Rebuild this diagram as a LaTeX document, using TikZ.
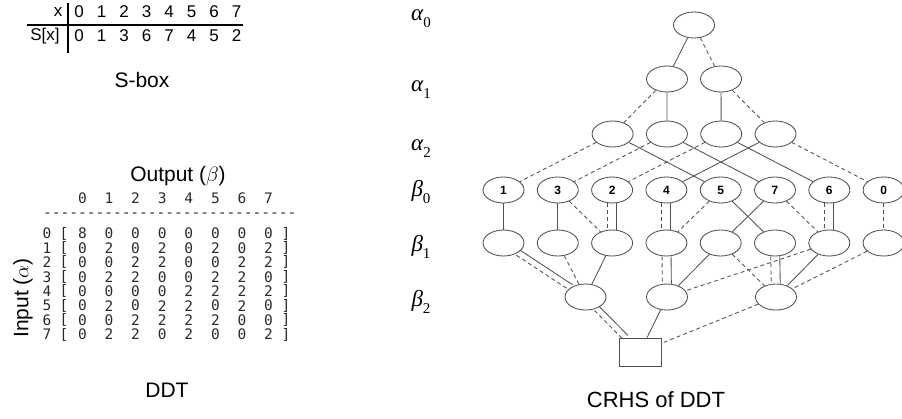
\documentclass[tikz,border=0pt]{standalone}
\usepackage{fontspec}
\setmainfont{Liberation Sans}
\setmonofont{DejaVu Sans Mono}
\newfontfamily\grk{Liberation Serif}
\usetikzlibrary{shapes.geometric}
\definecolor{lineclr}{HTML}{505050}
\definecolor{ddtclr}{HTML}{2A2A2A}
\newcommand{\lvl}[2]{{\grk\itshape #1}\raisebox{-0.3em}{\grk\fontsize{15}{15}\selectfont #2}}
\begin{document}
\begin{tikzpicture}[x=1pt,y=-1pt,
  vn/.style={draw=lineclr, ellipse, minimum width=41pt, minimum height=26pt, inner sep=0pt, line width=0.85pt, font=\fontsize{12}{12}\selectfont\bfseries},
  boxn/.style={draw=lineclr, rectangle, minimum width=42pt, minimum height=28pt, inner sep=0pt, line width=0.85pt},
  sol/.style={draw=lineclr, line width=0.85pt},
  dsh/.style={draw=lineclr, line width=0.85pt, dash pattern=on 4pt off 3pt},
  title/.style={font=\fontsize{21}{21}\selectfont, inner sep=0pt},
  sb/.style={font=\fontsize{17}{17}\selectfont, inner sep=0pt},
  ddt/.style={font=\fontsize{14.5}{14.5}\selectfont\ttfamily, text=ddtclr, inner sep=0pt},
  gl/.style={font=\fontsize{23}{23}\selectfont, inner sep=0pt}]
\useasboundingbox (0,0) rectangle (902,418);

% ---------- S-box table ----------
\node[sb] (sx) at (58,12) {x};
\node[sb] (ssx) at (45,36) {S[x]};
\foreach \v [count=\i from 0] in {0,1,2,3,4,5,6,7}
  \node[sb] (xt\i) at ({79+22.5*\i},12) {\v};
\foreach \v [count=\i from 0] in {0,1,3,6,7,4,5,2}
  \node[sb] (sv\i) at ({79+22.5*\i},36) {\v};
\coordinate (vtop) at (68,3);
\coordinate (vbot) at (68,53);
\coordinate (hl) at (27,25);
\coordinate (hr) at (243,25);
\draw[line width=1.4pt] (vtop) -- (vbot);
\draw[line width=1.2pt] (hl) -- (hr);
\node[title] (sboxlbl) at (142,80) {S-box};

% ---------- DDT ----------
\node[title] (outlbl) at (178,176) {Output ($\beta$)};
\node[title, rotate=90] (inlbl) at (23,298) {Input ($\alpha$)};
\foreach \c in {0,...,7}
  \node[ddt] (hd\c) at ({82.4+26.6*\c},198) {\c};
\node[ddt, anchor=west] (hyph) at (43,215) {-----------------------------};
\foreach \r/\row in {0/{8,0,0,0,0,0,0,0},1/{0,2,0,2,0,2,0,2},2/{0,0,2,2,0,0,2,2},3/{0,2,2,0,0,2,2,0},4/{0,0,0,0,2,2,2,2},5/{0,2,0,2,2,0,2,0},6/{0,0,2,2,2,2,0,0},7/{0,2,2,0,2,0,0,2}} {
  \node[ddt] (ri\r) at (47,{233.5+14.43*\r}) {\r};
  \node[ddt] (lb\r) at (64,{233.5+14.43*\r}) {[};
  \node[ddt] (rb\r) at (286,{233.5+14.43*\r}) {]};
  \foreach \v [count=\c from 0] in \row
    \node[ddt] (d\r-\c) at ({82.4+26.6*\c},{233.5+14.43*\r}) {\v};
}
\node[title] (ddtlbl) at (167,390) {DDT};

% ---------- level labels ----------
\node[gl] (ga0) at (421,19) {\lvl{α}{0}};
\node[gl] (ga1) at (421,90) {\lvl{α}{1}};
\node[gl] (ga2) at (421,149) {\lvl{α}{2}};
\node[gl] (gb0) at (421,192) {\lvl{β}{0}};
\node[gl] (gb1) at (421,247) {\lvl{β}{1}};
\node[gl] (gb2) at (421,302) {\lvl{β}{2}};

% ---------- CRHS graph ----------
\node[vn] (a0) at (694,25) {};
\node[vn] (a1-0) at (667,79) {};
\node[vn] (a1-1) at (721,79) {};
\foreach \i in {0,...,3}
  \node[vn] (a2-\i) at ({612.6+54.3*\i},134) {};
\foreach \l [count=\i from 0] in {1,3,2,4,5,7,6,0} {
  \node[vn] (b0-\i) at ({503.5+54.3*\i},190) {\l};
  \node[vn] (b1-\i) at ({503.5+54.3*\i},243) {};
}
\node[vn] (b2-0) at (585.5,297) {};
\node[vn] (b2-1) at (667,297) {};
\node[vn] (b2-2) at (776,297) {};
\node[boxn] (box) at (640,352) {};

% alpha0 -> alpha1
\draw[sol] (a0) -- (a1-0);
\draw[dsh] (a0) -- (a1-1);
% alpha1 -> alpha2
\draw[dsh] (a1-0) -- (a2-0);
\draw[sol] (a1-0) -- (a2-1);
\draw[sol] (a1-1) -- (a2-2);
\draw[dsh] (a1-1) -- (a2-3);
% alpha2 -> beta0
\draw[dsh] (a2-0) -- (b0-0);
\draw[sol] (a2-0) -- (b0-4);
\draw[dsh] (a2-1) -- (b0-1);
\draw[sol] (a2-1) -- (b0-5);
\draw[dsh] (a2-2) -- (b0-2);
\draw[sol] (a2-2) -- (b0-6);
\draw[sol] (a2-3) -- (b0-3);
\draw[dsh] (a2-3) -- (b0-7);
% beta0 -> beta1
\draw[sol] (b0-0) -- (b1-0);
\draw[sol] (b0-1) -- (b1-1);
\draw[dsh] (b0-1) -- (b1-2);
\draw[dsh, transform canvas={xshift=-4.5pt}] (b0-2) -- (b1-2);
\draw[sol, transform canvas={xshift=4.5pt}] (b0-2) -- (b1-2);
\draw[dsh, transform canvas={xshift=-4.5pt}] (b0-3) -- (b1-3);
\draw[sol, transform canvas={xshift=4.5pt}] (b0-3) -- (b1-3);
\draw[dsh] (b0-4) -- (b1-3);
\draw[sol] (b0-4) -- (b1-5);
\draw[sol] (b0-5) -- (b1-4);
\draw[dsh] (b0-5) -- (b1-6);
\draw[dsh, transform canvas={xshift=-4.5pt}] (b0-6) -- (b1-6);
\draw[sol, transform canvas={xshift=4.5pt}] (b0-6) -- (b1-6);
\draw[dsh] (b0-7) -- (b1-7);
% beta1 -> beta2
\draw[dsh, transform canvas={shift={(-1.7pt,-2.6pt)}}] (b1-0) -- (b2-0);
\draw[sol, transform canvas={shift={(1.7pt,2.6pt)}}] (b1-0) -- (b2-0);
\draw[dsh] (b1-1) -- (b2-0);
\draw[sol] (b1-2) -- (b2-0);
\draw[dsh, transform canvas={xshift=-4.5pt}] (b1-3) -- (b2-1);
\draw[sol, transform canvas={xshift=4.5pt}] (b1-3) -- (b2-1);
\draw[sol] (b1-4) -- (b2-1);
\draw[dsh] (b1-4) -- (b2-2);
\draw[dsh, transform canvas={xshift=-4.5pt}] (b1-5) -- (b2-2);
\draw[sol, transform canvas={xshift=4.5pt}] (b1-5) -- (b2-2);
\draw[sol] (b1-6) -- (b2-2);
\draw[dsh] (b1-6) -- (b2-1);
\draw[dsh] (b1-7) -- (b2-2);
% beta2 -> box
\draw[dsh, transform canvas={shift={(-2.2pt,-2.2pt)}}] (b2-0) -- (box);
\draw[sol, transform canvas={shift={(2.2pt,2.2pt)}}] (b2-0) -- (box);
\draw[sol] (b2-1) -- (box);
\draw[dsh] (b2-2) -- (box);

\node[title, font=\fontsize{22}{22}\selectfont] (crhslbl) at (656,400) {CRHS of DDT};
\end{tikzpicture}
\end{document}
